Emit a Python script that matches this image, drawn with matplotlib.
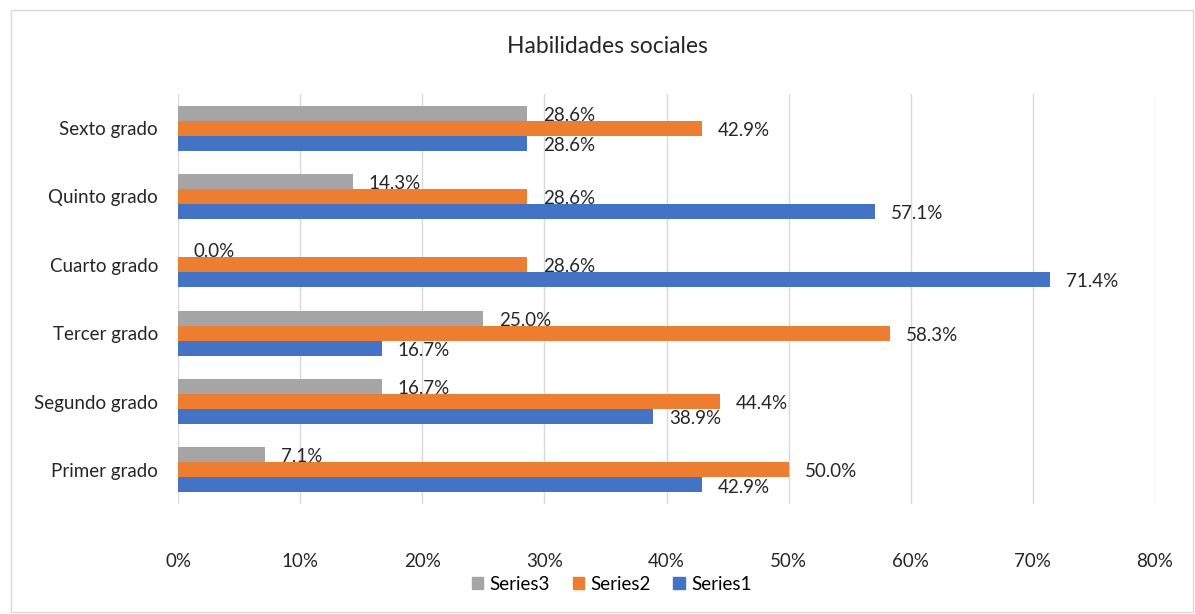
import matplotlib.pyplot as plt
import matplotlib.patches as mpatches
import numpy as np

categories = ["Primer grado", "Segundo grado", "Tercer grado", "Cuarto grado", "Quinto grado", "Sexto grado"]
series1 = [42.9, 38.9, 16.7, 71.4, 57.1, 28.6]
series2 = [50.0, 44.4, 58.3, 28.6, 28.6, 42.9]
series3 = [7.1, 16.7, 25.0, 0.0, 14.3, 28.6]
series_names = ["Series1", "Series2", "Series3"]
colors = ["#4472C4", "#ED7D31", "#A5A5A5"]

plt.rcParams['font.family'] = ['Lato', 'DejaVu Sans']

fig = plt.figure(figsize=(11.95, 6.14), dpi=100)
ax = fig.add_axes([0.149, 0.179, 0.8175, 0.668])

y = np.arange(len(categories))
h = 0.22
offsets = [-h, 0, h]
for vals, off, col, name in zip([series1, series2, series3], offsets, colors, series_names):
    ax.barh(y + off, vals, height=h, color=col, label=name, zorder=2)
    for yi, v in zip(y, vals):
        # label slightly below bar centre, as in the original
        ax.text(v + 1.3, yi + off - 0.03, f"{v:.1f}%", va='center', ha='left', fontsize=13.5,
                color='#262626', zorder=3)

ax.set_xlim(0, 80)
ax.set_ylim(-0.5, 5.5)
ax.set_xticks(np.arange(0, 81, 10))
ax.set_xticklabels([f"{t}%" for t in range(0, 81, 10)])
ax.set_yticks(y)
ax.set_yticklabels(categories)
ax.tick_params(axis='both', length=0, labelsize=13.5, labelcolor='#262626')
ax.tick_params(axis='x', pad=35)
ax.tick_params(axis='y', pad=14.5)
ax.grid(axis='x', color='#D9D9D9', linewidth=1, zorder=0)
for s in ax.spines.values():
    s.set_visible(False)

fig.text(0.508, 0.925, "Habilidades sociales", ha='center', va='center', fontsize=16.5, color='#262626')

handles = [mpatches.Patch(color=colors[2], label="Series3"),
           mpatches.Patch(color=colors[1], label="Series2"),
           mpatches.Patch(color=colors[0], label="Series1")]
fig.legend(handles=handles, loc='center', bbox_to_anchor=(0.512, 0.048), ncol=3, frameon=False,
           fontsize=13.5, handlelength=0.6, handleheight=0.6, handletextpad=0.35, columnspacing=1.2)

border = mpatches.Rectangle((0.009, 0.004), 0.989, 0.98, transform=fig.transFigure, fill=False,
                            edgecolor='#D9D9D9', linewidth=1)
fig.patches.append(border)

fig.savefig("out.png", dpi=100)
